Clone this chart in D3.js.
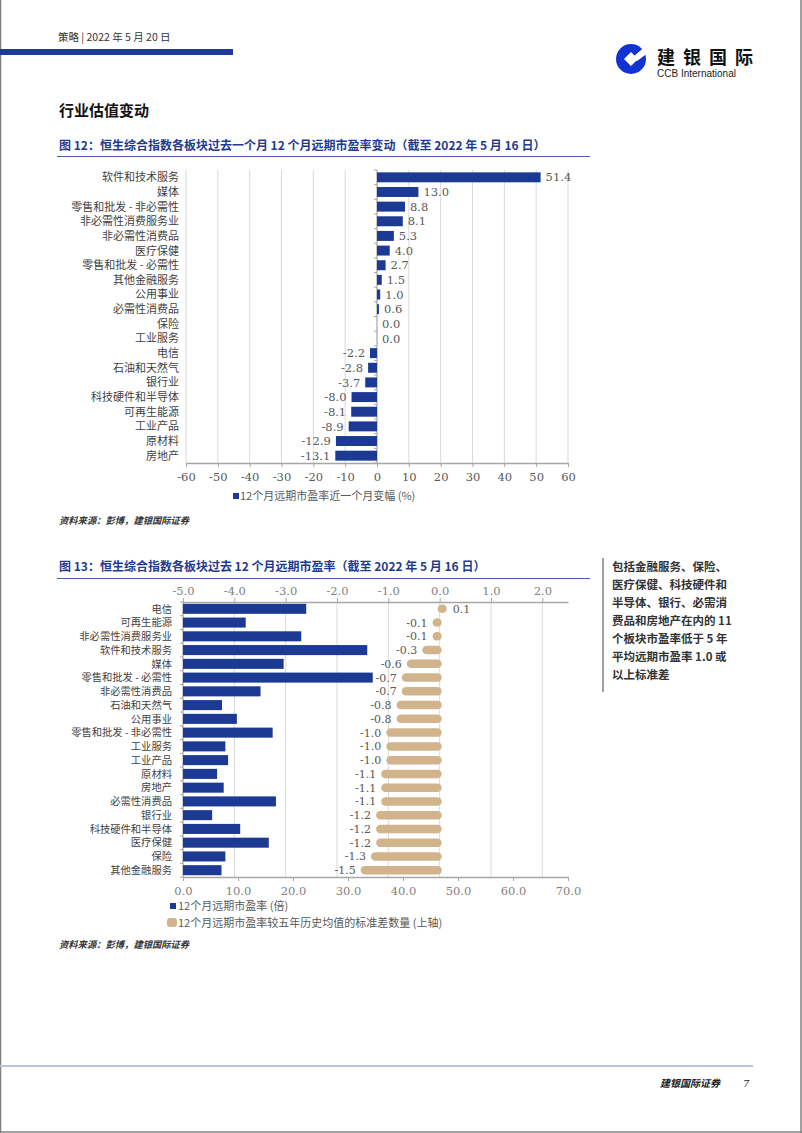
<!DOCTYPE html>
<html><head><meta charset="utf-8">
<script src="https://cdn.jsdelivr.net/npm/d3@7"></script>
<style>
html,body{margin:0;padding:0;background:#fff;}
svg{display:block;}
</style></head>
<body>
<svg id="page" width="802" height="1133"></svg>
<script>
// ---------- DATA ----------
const cats1 = ["软件和技术服务","媒体","零售和批发 - 非必需性","非必需性消费服务业","非必需性消费品","医疗保健","零售和批发 - 必需性","其他金融服务","公用事业","必需性消费品","保险","工业服务","电信","石油和天然气","银行业","科技硬件和半导体","可再生能源","工业产品","原材料","房地产"];
const chg1 = [51.4,13.0,8.8,8.1,5.3,4.0,2.7,1.5,1.0,0.6,0.0,0.0,-2.2,-2.8,-3.7,-8.0,-8.1,-8.9,-12.9,-13.1];
const ticks1 = [-60,-50,-40,-30,-20,-10,0,10,20,30,40,50,60];

const cats2 = ["电信","可再生能源","非必需性消费服务业","软件和技术服务","媒体","零售和批发 - 必需性","非必需性消费品","石油和天然气","公用事业","零售和批发 - 非必需性","工业服务","工业产品","原材料","房地产","必需性消费品","银行业","科技硬件和半导体","医疗保健","保险","其他金融服务"];
const pe2 = [22.4,11.4,21.5,33.5,18.3,34.5,14.1,7.1,9.8,16.3,7.7,8.2,6.2,7.4,16.9,5.3,10.4,15.6,7.7,7.0];
const sd2 = [0.1,-0.1,-0.1,-0.3,-0.6,-0.7,-0.7,-0.8,-0.8,-1.0,-1.0,-1.0,-1.1,-1.1,-1.1,-1.2,-1.2,-1.2,-1.3,-1.5];
const ticksTop2 = [-5,-4,-3,-2,-1,0,1,2];
const ticksBottom2 = [0,10,20,30,40,50,60,70];

const sideText = ["包括金融服务、保险、","医疗保健、科技硬件和","半导体、银行、必需消","费品和房地产在内的 11","个板块市盈率低于 5 年","平均远期市盈率 1.0 或","以上标准差"];

// ---------- STYLE ----------
const BLUE = "#1C3A94", TAN = "#D2B48C", GRID = "#D9D9D9", AXIS = "#A6A6A6";
const CJK = "'Noto Sans CJK SC', sans-serif";
const NUM = "'DejaVu Serif', serif";
const f1 = v => d3.format(".1f")(v).replace("\u2212","-");
const f0 = v => d3.format("d")(v).replace("\u2212","-");

const svg = d3.select("#page");

// page border
svg.append("line").attr("x1",0.5).attr("x2",0.5).attr("y1",0).attr("y2",1133).attr("stroke","#808080").attr("stroke-width",1.5);
svg.append("line").attr("x1",801).attr("x2",801).attr("y1",0).attr("y2",1133).attr("stroke","#808080").attr("stroke-width",1.5);
svg.append("line").attr("x1",0).attr("x2",802).attr("y1",1132).attr("y2",1132).attr("stroke","#808080").attr("stroke-width",1.5);

// header
svg.append("text").attr("x",58).attr("y",41).attr("font-family",CJK).attr("font-size",10.5).attr("fill","#333")
  .text("策略 | 2022 年 5 月 20 日");
svg.append("rect").attr("x",0).attr("y",49).attr("width",233).attr("height",6).attr("fill","#1E3C96");

// logo
const lg = svg.append("g");
lg.append("circle").attr("cx",631).attr("cy",59).attr("r",15).attr("fill","#1133D4");
lg.append("path").attr("d","M631,52 L638,59 L631,66 L624,59 Z").attr("fill","#fff");
lg.append("path").attr("d","M633,57 L648,44 L652,50 L637,61 Z").attr("fill","#fff");
lg.append("text").attr("x",657).attr("y",64).attr("font-family",CJK).attr("font-weight",700).attr("font-size",18).attr("letter-spacing",8).attr("fill","#111").text("建银国际");
lg.append("text").attr("x",657).attr("y",77).attr("font-family","'Liberation Sans', Arial, sans-serif").attr("font-size",10).attr("fill","#222").text("CCB International");

// section heading
svg.append("text").attr("x",59).attr("y",116).attr("font-family",CJK).attr("font-weight",700).attr("font-size",15).attr("fill","#111").text("行业估值变动");

// chart titles
function title(y, txt){
  svg.append("text").attr("x",59).attr("y",y).attr("font-family",CJK).attr("font-weight",700).attr("font-size",12).attr("fill","#1F3B8F").text(txt);
}
title(150, "图 12：恒生综合指数各板块过去一个月 12 个月远期市盈率变动（截至 2022 年 5 月 16 日）");
svg.append("line").attr("x1",57).attr("x2",590).attr("y1",156.5).attr("y2",156.5).attr("stroke","#4A5DA8").attr("stroke-width",1);
title(571, "图 13：恒生综合指数各板块过去 12 个月远期市盈率（截至 2022 年 5 月 16 日）");
svg.append("line").attr("x1",57).attr("x2",590).attr("y1",578.5).attr("y2",578.5).attr("stroke","#4A5DA8").attr("stroke-width",1);

// ---------- CHART 1 ----------
const x1 = d3.scaleLinear().domain([-60,60]).range([186,568]);
const y1 = d3.scaleBand().domain(cats1).range([170,463]).paddingInner(0.32).paddingOuter(0.16);
const g1 = svg.append("g");
g1.selectAll("line.grid").data(ticks1).join("line")
  .attr("x1",d=>x1(d)).attr("x2",d=>x1(d)).attr("y1",170).attr("y2",463)
  .attr("stroke",GRID).attr("stroke-width",1);
const step1 = y1.step();
g1.append("line").attr("x1",x1(0)).attr("x2",x1(0)).attr("y1",170).attr("y2",463).attr("stroke",AXIS);
g1.selectAll("line.yt").data(d3.range(cats1.length+1)).join("line")
  .attr("x1",x1(0)-3).attr("x2",x1(0)).attr("y1",i=>170+i*step1).attr("y2",i=>170+i*step1).attr("stroke",AXIS);
g1.selectAll("rect.bar").data(cats1).join("rect")
  .attr("x",(d,i)=>x1(Math.min(0,chg1[i]))).attr("width",(d,i)=>Math.abs(x1(chg1[i])-x1(0)))
  .attr("y",d=>y1(d)).attr("height",y1.bandwidth()).attr("fill",BLUE);
g1.selectAll("text.val").data(cats1).join("text")
  .attr("x",(d,i)=>chg1[i]>=0 ? x1(chg1[i])+5 : x1(chg1[i])-5)
  .attr("text-anchor",(d,i)=>chg1[i]>=0?"start":"end")
  .attr("y",d=>y1(d)+y1.bandwidth()/2).attr("dy","0.36em")
  .attr("font-family",NUM).attr("font-size",11.5).attr("fill","#595959")
  .text((d,i)=>f1(chg1[i]));
g1.selectAll("text.cat").data(cats1).join("text")
  .attr("x",179).attr("text-anchor","end")
  .attr("y",d=>y1(d)+y1.bandwidth()/2).attr("dy","0.36em")
  .attr("font-family",CJK).attr("font-size",11).attr("fill","#3F3F3F").text(d=>d);
const ax1 = g1.append("g").attr("transform","translate(0,463)")
  .call(d3.axisBottom(x1).tickValues(ticks1).tickSize(4).tickSizeOuter(0).tickFormat(f0));
ax1.select(".domain").attr("stroke",AXIS).attr("stroke-width",1.5);
ax1.selectAll(".tick line").attr("stroke",AXIS);
ax1.selectAll(".tick text").attr("font-family",NUM).attr("font-size",11.5).attr("fill","#595959").attr("dy","0.95em");
// legend 1
svg.append("rect").attr("x",233).attr("y",493).attr("width",6).attr("height",6).attr("fill",BLUE);
svg.append("text").attr("x",240).attr("y",500).attr("font-family",CJK).attr("font-size",11).attr("fill","#595959").text("12个月远期市盈率近一个月变幅 (%)");
// source
function source(y){
  svg.append("text").attr("x",59).attr("y",y).attr("font-family",CJK).attr("font-weight",700).attr("font-style","italic")
    .attr("font-size",9.3).attr("fill","#333").text("资料来源：彭博，建银国际证券");
}
source(524);

// ---------- CHART 2 ----------
const xb = d3.scaleLinear().domain([0,70]).range([183,568]);
const xt = d3.scaleLinear().domain([-5,2.5]).range([183,568]);
const y2 = d3.scaleBand().domain(cats2).range([602,877]).paddingInner(0.27).paddingOuter(0.13);
const g2 = svg.append("g");
g2.selectAll("line.grid").data(ticksTop2).join("line")
  .attr("x1",d=>xt(d)).attr("x2",d=>xt(d)).attr("y1",602).attr("y2",877)
  .attr("stroke",GRID).attr("stroke-width",1);
const step2 = y2.step();
g2.append("line").attr("x1",183).attr("x2",183).attr("y1",602).attr("y2",877).attr("stroke",AXIS);
g2.selectAll("line.yt").data(d3.range(cats2.length+1)).join("line")
  .attr("x1",180).attr("x2",183).attr("y1",i=>602+i*step2).attr("y2",i=>602+i*step2).attr("stroke",AXIS);
g2.selectAll("rect.bar").data(cats2).join("rect")
  .attr("x",xb(0)).attr("width",(d,i)=>xb(pe2[i])-xb(0))
  .attr("y",d=>y2(d)).attr("height",y2.bandwidth()).attr("fill",BLUE);
const pillH = 8.5;
g2.selectAll("rect.pill").data(cats2).join("rect")
  .attr("x",(d,i)=>xt(Math.min(0,sd2[i]))-2)
  .attr("width",(d,i)=>Math.abs(xt(sd2[i])-xt(0))+4)
  .attr("y",d=>y2(d)+y2.bandwidth()/2-pillH/2).attr("height",pillH)
  .attr("rx",pillH/2).attr("ry",pillH/2).attr("fill",TAN);
g2.selectAll("text.val").data(cats2).join("text")
  .attr("x",(d,i)=>sd2[i]>=0 ? xt(sd2[i])+8 : xt(sd2[i])-7)
  .attr("text-anchor",(d,i)=>sd2[i]>=0?"start":"end")
  .attr("y",d=>y2(d)+y2.bandwidth()/2).attr("dy","0.36em")
  .attr("font-family",NUM).attr("font-size",11).attr("fill","#595959")
  .text((d,i)=>f1(sd2[i]));
g2.selectAll("text.cat").data(cats2).join("text")
  .attr("x",172).attr("text-anchor","end")
  .attr("y",d=>y2(d)+y2.bandwidth()/2).attr("dy","0.36em")
  .attr("font-family",CJK).attr("font-size",10.3).attr("fill","#3F3F3F").text(d=>d);
const axT = g2.append("g").attr("transform","translate(0,602)")
  .call(d3.axisTop(xt).tickValues(ticksTop2).tickSize(4).tickSizeOuter(0).tickFormat(f1));
axT.select(".domain").attr("stroke",AXIS).attr("stroke-width",1.5);
axT.selectAll(".tick line").attr("stroke",AXIS);
axT.selectAll(".tick text").attr("font-family",NUM).attr("font-size",11.5).attr("fill","#7F7F7F");
const axB = g2.append("g").attr("transform","translate(0,877)")
  .call(d3.axisBottom(xb).tickValues(ticksBottom2).tickSize(4).tickSizeOuter(0).tickFormat(f1));
axB.select(".domain").attr("stroke",AXIS).attr("stroke-width",1.5);
axB.selectAll(".tick line").attr("stroke",AXIS);
axB.selectAll(".tick text").attr("font-family",NUM).attr("font-size",11.5).attr("fill","#7F7F7F").attr("dy","0.95em");
// legend 2
svg.append("rect").attr("x",170).attr("y",903).attr("width",6).attr("height",6).attr("fill",BLUE);
svg.append("text").attr("x",178).attr("y",910).attr("font-family",CJK).attr("font-size",11).attr("fill","#595959").text("12个月远期市盈率 (倍)");
svg.append("rect").attr("x",167).attr("y",918).attr("width",10).attr("height",9).attr("rx",3).attr("fill",TAN);
svg.append("text").attr("x",178).attr("y",927).attr("font-family",CJK).attr("font-size",11).attr("fill","#595959").text("12个月远期市盈率较五年历史均值的标准差数量 (上轴)");
source(948);

// side note
svg.append("line").attr("x1",603).attr("x2",603).attr("y1",558).attr("y2",692).attr("stroke","#A0A0A0").attr("stroke-width",2);
svg.selectAll("text.side").data(sideText).join("text")
  .attr("x",612).attr("y",(d,i)=>571+i*18)
  .attr("font-family",CJK).attr("font-weight",700).attr("font-size",11.5).attr("fill","#333").text(d=>d);

// footer
svg.append("line").attr("x1",0).attr("x2",753).attr("y1",1066).attr("y2",1066).attr("stroke","#BFC3D8").attr("stroke-width",2);
svg.append("text").attr("x",720).attr("y",1087).attr("text-anchor","end").attr("font-family",CJK).attr("font-weight",700).attr("font-style","italic").attr("font-size",10).attr("fill","#222").text("建银国际证券");
svg.append("text").attr("x",743).attr("y",1087).attr("font-family",NUM).attr("font-style","italic").attr("font-size",10).attr("fill","#222").text("7");
</script>
</body></html>
